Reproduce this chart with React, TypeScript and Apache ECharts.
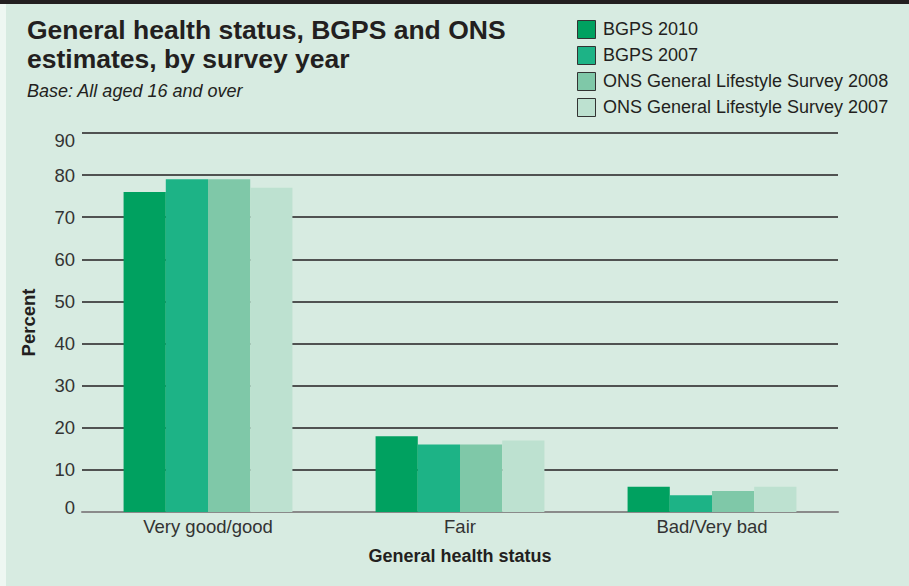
import React, { useEffect, useRef } from "react";
import * as echarts from "echarts";

const categories = ["Very good/good", "Fair", "Bad/Very bad"];
const seriesNames = [
  "BGPS 2010",
  "BGPS 2007",
  "ONS General Lifestyle Survey 2008",
  "ONS General Lifestyle Survey 2007",
];
const bgps2010 = [76, 18, 6];
const bgps2007 = [79, 16, 4];
const ons2008 = [79, 16, 5];
const ons2007 = [77, 17, 6];
const colors = ["#00a160", "#1db386", "#7fc8a8", "#bde1d0"];
const yTicks = { min: 0, max: 90, interval: 10 };

const FONT = "'Liberation Sans', Arial, Helvetica, sans-serif";

export default function App() {
  const ref = useRef<HTMLDivElement>(null);
  useEffect(() => {
    if (!ref.current) return;
    const chart = echarts.init(ref.current, undefined, { renderer: "svg" });
    const values = [bgps2010, bgps2007, ons2008, ons2007];
    const legendGraphics: any[] = [];
    seriesNames.forEach((n, i) => {
      const top = 20 + i * 26;
      legendGraphics.push({
        type: "rect",
        shape: { x: 577.5, y: top + 0.5, width: 18, height: 18 },
        style: { fill: colors[i], stroke: "#333333", lineWidth: 1 },
      });
      legendGraphics.push({
        type: "text",
        x: 603,
        y: top + 9,
        style: {
          text: n,
          fill: "#231f20",
          font: `18px ${FONT}`,
          verticalAlign: "middle",
          align: "left",
        },
      });
    });
    chart.setOption({
      animation: false,
      backgroundColor: "#d7ebe1",
      textStyle: { fontFamily: FONT },
      graphic: [
        { type: "rect", shape: { x: 0, y: 0, width: 909, height: 4 }, style: { fill: "#231f20" } },
        { type: "rect", shape: { x: 0, y: 4, width: 6, height: 582 }, style: { fill: "#eef7f2" } },
        {
          type: "text",
          x: 27,
          y: 30,
          style: {
            text: "General health status, BGPS and ONS",
            font: `bold 26.5px ${FONT}`,
            fill: "#231f20",
            verticalAlign: "middle",
          },
        },
        {
          type: "text",
          x: 27,
          y: 58.5,
          style: {
            text: "estimates, by survey year",
            font: `bold 26.5px ${FONT}`,
            fill: "#231f20",
            verticalAlign: "middle",
          },
        },
        {
          type: "text",
          x: 27,
          y: 91,
          style: {
            text: "Base: All aged 16 and over",
            font: `italic 18px ${FONT}`,
            fill: "#231f20",
            verticalAlign: "middle",
          },
        },
        ...legendGraphics,
      ],
      grid: { left: 82, right: 71, top: 133, bottom: 74, containLabel: false },
      xAxis: {
        type: "category",
        data: categories,
        axisLine: { show: true, lineStyle: { color: "#8a8a8a", width: 2 } },
        axisTick: { show: false },
        axisLabel: { color: "#333333", fontSize: 18.5, margin: 5, fontFamily: FONT },
        name: "General health status",
        nameLocation: "middle",
        nameGap: 35,
        nameTextStyle: { color: "#231f20", fontSize: 18, fontWeight: "bold", fontFamily: FONT },
      },
      yAxis: {
        type: "value",
        min: yTicks.min,
        max: yTicks.max,
        interval: yTicks.interval,
        axisLine: { show: false },
        axisTick: { show: false },
        splitLine: { show: true, lineStyle: { color: "#231f20", width: 1.5 } },
        axisLabel: {
          color: "#333333",
          fontSize: 18.5,
          margin: 7,
          fontFamily: FONT,
          formatter: (v: number) =>
            v === yTicks.max ? `{top|${v}}` : v === yTicks.min ? `{bot|${v}}` : `{n|${v}}`,
          rich: {
            n: { fontSize: 18.5, color: "#333333", fontFamily: FONT },
            top: { fontSize: 18.5, color: "#333333", fontFamily: FONT, padding: [14, 0, 0, 0] },
            bot: { fontSize: 18.5, color: "#333333", fontFamily: FONT, padding: [0, 0, 9, 0] },
          },
        },
        name: "Percent",
        nameLocation: "middle",
        nameGap: 44,
        nameRotate: 90,
        nameTextStyle: { color: "#231f20", fontSize: 18.5, fontWeight: "bold", fontFamily: FONT },
      },
      series: seriesNames.map((n, i) => ({
        name: n,
        type: "bar",
        data: values[i],
        barGap: "0%",
        barCategoryGap: "33%",
        itemStyle: { color: colors[i] },
        z: 3,
      })),
    });
    return () => chart.dispose();
  }, []);
  return (
    <div
      ref={ref}
      style={{ position: "absolute", left: 0, top: 0, width: 909, height: 586 }}
    />
  );
}
